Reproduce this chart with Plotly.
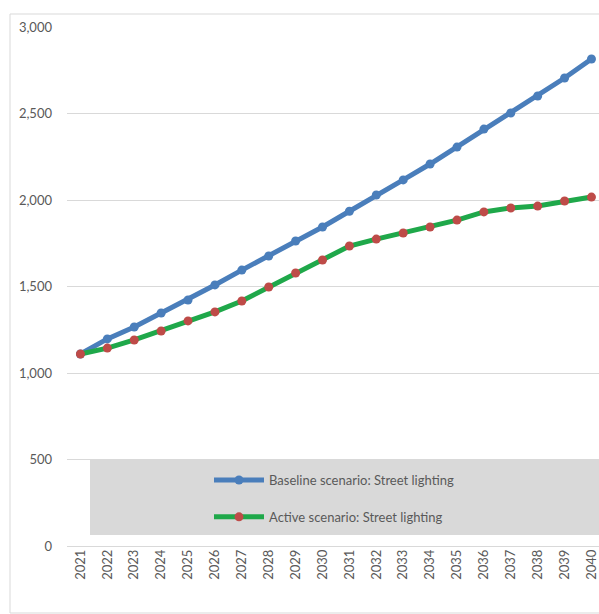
import plotly.graph_objects as go

# Street lighting projections, 2021-2040
years = list(range(2021, 2041))
year_labels = [str(y) for y in years]
baseline = [1110, 1197, 1266, 1347, 1422, 1509, 1595, 1676, 1763, 1844,
            1935, 2029, 2116, 2208, 2306, 2410, 2503, 2601, 2705, 2815]
active = [1110, 1144, 1191, 1243, 1301, 1353, 1416, 1497, 1578, 1653,
          1734, 1774, 1809, 1844, 1884, 1931, 1954, 1965, 1994, 2017]
y_ticks = [0, 500, 1000, 1500, 2000, 2500, 3000]
y_tick_labels = ["0", "500", "1,000", "1,500", "2,000", "2,500", "3,000"]

W, H = 599, 614
ML, MR, MT, MB = 67, 0, 27, 68
plot_w = W - ML - MR
plot_h = H - MT - MB

FONT = "Lato"
TXT = "#595959"
GRID = "#D9D9D9"

fig = go.Figure()
fig.add_trace(go.Scatter(
    x=years, y=baseline, mode="lines+markers",
    name="Baseline scenario: Street lighting", legendgroup="base",
    line=dict(color="#4A7EBB", width=5),
    marker=dict(color="#4A7EBB", size=9),
))
fig.add_trace(go.Scatter(
    x=years, y=active, mode="lines+markers",
    name="Active scenario: Street lighting", legendgroup="active",
    line=dict(color="#1FA84A", width=5),
    marker=dict(color="#BE4B48", size=9),
))

def px_x(px):
    return (px - ML) / plot_w

def px_y(py):
    return (H - MB - py) / plot_h

# grey band behind the legend
fig.add_shape(type="rect", xref="paper", yref="paper",
              x0=px_x(90), x1=px_x(W + 5), y0=px_y(535), y1=px_y(459),
              fillcolor="#D9D9D9", line=dict(width=0), layer="below")
# chart area border
fig.add_shape(type="rect", xref="paper", yref="paper",
              x0=px_x(10), x1=px_x(W + 5), y0=px_y(613), y1=px_y(14),
              fillcolor="rgba(0,0,0,0)", line=dict(color="#D9D9D9", width=1),
              layer="below")

fig.update_layout(
    width=W, height=H,
    margin=dict(l=ML, r=MR, t=MT, b=MB),
    paper_bgcolor="white", plot_bgcolor="white",
    font=dict(family=FONT, color=TXT, size=13),
    showlegend=True,
    legend=dict(
        x=px_x(209), y=px_y(465), xanchor="left", yanchor="top",
        bgcolor="rgba(0,0,0,0)", font=dict(family=FONT, size=13, color=TXT),
        itemwidth=50, traceorder="grouped", tracegroupgap=17,
    ),
    xaxis=dict(
        range=[2020.5, 2040.28], tickmode="array", tickvals=years,
        ticktext=year_labels, tickangle=-90, showgrid=False, zeroline=False,
        showline=False, ticks="", tickfont=dict(size=13, color=TXT),
    ),
    yaxis=dict(
        range=[0, 3000], tickmode="array", tickvals=y_ticks,
        ticktext=y_tick_labels, showgrid=True, gridcolor=GRID, gridwidth=1,
        zeroline=True, zerolinecolor=GRID, zerolinewidth=1,
        showline=False, ticks="", ticklabelstandoff=14,
        tickfont=dict(size=13, color=TXT),
    ),
)

fig.write_html("out.html")
